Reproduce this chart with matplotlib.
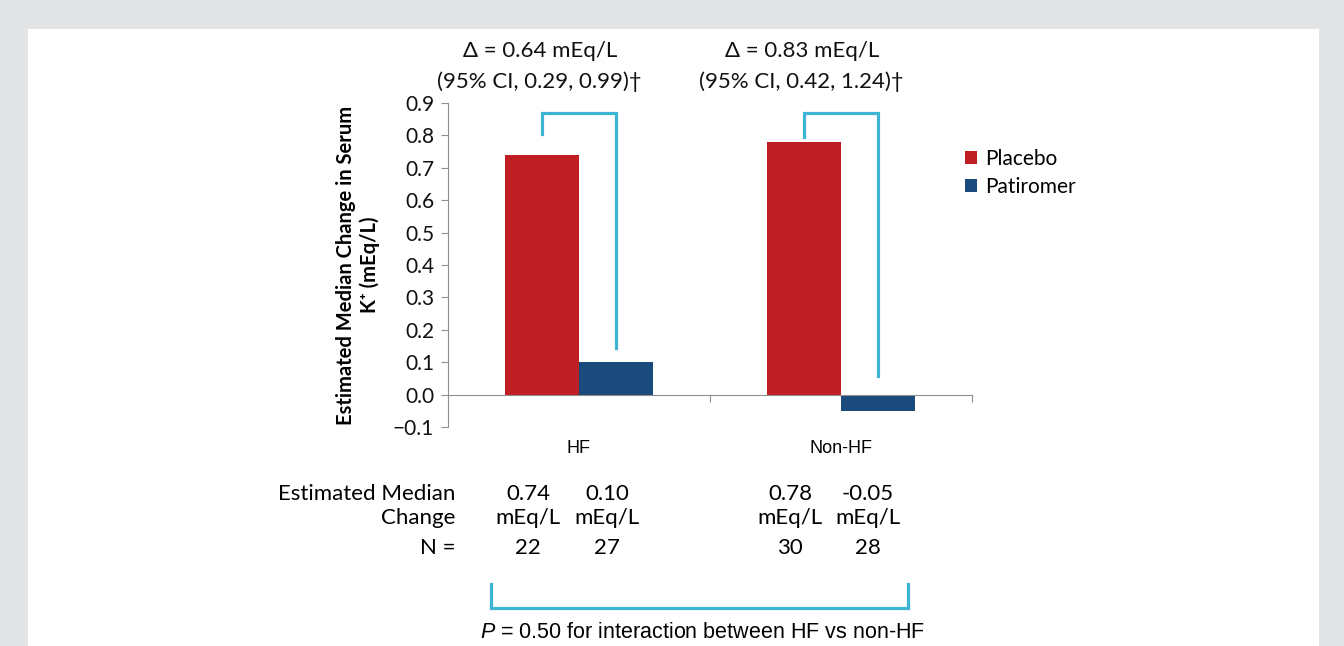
import matplotlib
matplotlib.use("Agg")
import matplotlib.pyplot as plt
from matplotlib.patches import Rectangle

categories = ["HF", "Non-HF"]
placebo = [0.74, 0.78]
patiromer = [0.10, -0.05]
n_placebo = [22, 30]
n_patiromer = [27, 28]
delta = [0.64, 0.83]
ci_low = [0.29, 0.42]
ci_high = [0.99, 1.24]
yticks = [-0.1, 0.0, 0.1, 0.2, 0.3, 0.4, 0.5, 0.6, 0.7, 0.8, 0.9]

RED = "#be1e24"
BLUE = "#1b4a7d"
CYAN = "#3db4d2"
CAL = ["Lato", "DejaVu Sans"]
ARIAL = ["Liberation Sans", "DejaVu Sans"]
plt.rcParams["mathtext.fontset"] = "custom"
plt.rcParams["mathtext.it"] = "Liberation Sans:italic"
plt.rcParams["mathtext.rm"] = "Liberation Sans"

fig = plt.figure(figsize=(13.44, 6.46), dpi=100)
fig.patch.set_facecolor("#e3e4e6")
fig.patches.append(Rectangle((28 / 1344, 0), (1319 - 28) / 1344, (646 - 29) / 646,
                             transform=fig.transFigure, facecolor="white",
                             edgecolor="none", zorder=-5))

ax = fig.add_axes([448 / 1344, 219 / 646, 524 / 1344, 324 / 646])
ax.set_facecolor("none")

w = 0.283
x = range(len(categories))
ax.bar([i - w / 2 for i in x], placebo, w, color=RED, label="Placebo", zorder=2)
ax.bar([i + w / 2 for i in x], patiromer, w, color=BLUE, label="Patiromer", zorder=2)

ax.set_xlim(-0.5, 1.5)
ax.set_ylim(-0.1, 0.9)
ax.set_yticks(yticks)
ax.set_yticklabels([f"{t:.1f}".replace("-", "\u2212") for t in yticks], family=CAL,
                   fontsize=15, color="#111111")
ax.set_xticks([0.5, 1.5])
ax.set_xticklabels([])
ax.tick_params(axis="y", length=5, color="#909090", pad=5)
ax.tick_params(axis="x", length=5, color="#909090", direction="out")
for s in ["top", "right"]:
    ax.spines[s].set_visible(False)
ax.spines["bottom"].set_position(("data", 0))
ax.spines["bottom"].set_color("#909090")
ax.spines["left"].set_color("#909090")

ax.set_ylabel("Estimated Median Change in Serum\nK\u207a (mEq/L)", family=CAL,
              fontsize=14.5, fontweight="bold", labelpad=9, linespacing=1.25)

for i, c in enumerate(categories):
    ax.text(i, -0.165, c, ha="center", va="center", family=ARIAL, fontsize=13,
            transform=ax.transData, clip_on=False)

# brackets for treatment difference
bracket_top = 0.868
left_bottom = [0.805, 0.796]
right_bottom = [0.145, 0.056]
for i in x:
    xl, xr = i - w / 2, i + w / 2
    ax.plot([xl, xl, xr, xr], [left_bottom[i], bracket_top, bracket_top, right_bottom[i]],
            color=CYAN, lw=2.3, solid_joinstyle="miter", clip_on=False, zorder=3)
    ax.text(i - 0.15, 1.06, f"\u0394 = {delta[i]:.2f} mEq/L", ha="center", va="center",
            family=CAL, fontsize=16, color="#111111")
    ax.text(i - 0.15, 0.965, f"(95% CI, {ci_low[i]:.2f}, {ci_high[i]:.2f})\u2020",
            ha="center", va="center", family=CAL, fontsize=16, color="#111111")

leg = ax.legend(loc="upper left", bbox_to_anchor=(0.97, 0.885), frameon=False,
                prop={"family": CAL, "size": 15}, handlelength=0.6, handleheight=0.6,
                handletextpad=0.4, labelspacing=0.4, borderaxespad=0)

# table below chart
def fx(px):
    return px / 1344

def fy(py):
    return 1 - py / 646

fs = 16
fig.text(fx(455), fy(494), "Estimated Median", ha="right", va="center", family=CAL, fontsize=fs)
fig.text(fx(455), fy(518), "Change", ha="right", va="center", family=CAL, fontsize=fs)
fig.text(fx(455), fy(548), "N =", ha="right", va="center", family=CAL, fontsize=fs)

col_x = [[528, 607], [790, 868]]
for i in x:
    vals = [placebo[i], patiromer[i]]
    ns = [n_placebo[i], n_patiromer[i]]
    for j in range(2):
        fig.text(fx(col_x[i][j]), fy(494), f"{vals[j]:.2f}", ha="center", va="center",
                 family=CAL, fontsize=fs)
        fig.text(fx(col_x[i][j]), fy(518), "mEq/L", ha="center", va="center",
                 family=CAL, fontsize=fs)
        fig.text(fx(col_x[i][j]), fy(548), f"{ns[j]}", ha="center", va="center",
                 family=CAL, fontsize=fs)

fig.add_artist(plt.Line2D([fx(491), fx(491), fx(908), fx(908)], [fy(584), fy(608), fy(608), fy(584)],
                          transform=fig.transFigure, color=CYAN, lw=2.3, solid_joinstyle="miter"))
fig.text(fx(703), fy(632), "$P$ = 0.50 for interaction between HF vs non-HF", ha="center",
         va="center", family=ARIAL, fontsize=15.5)

fig.savefig("out.png", dpi=100, facecolor=fig.get_facecolor())
